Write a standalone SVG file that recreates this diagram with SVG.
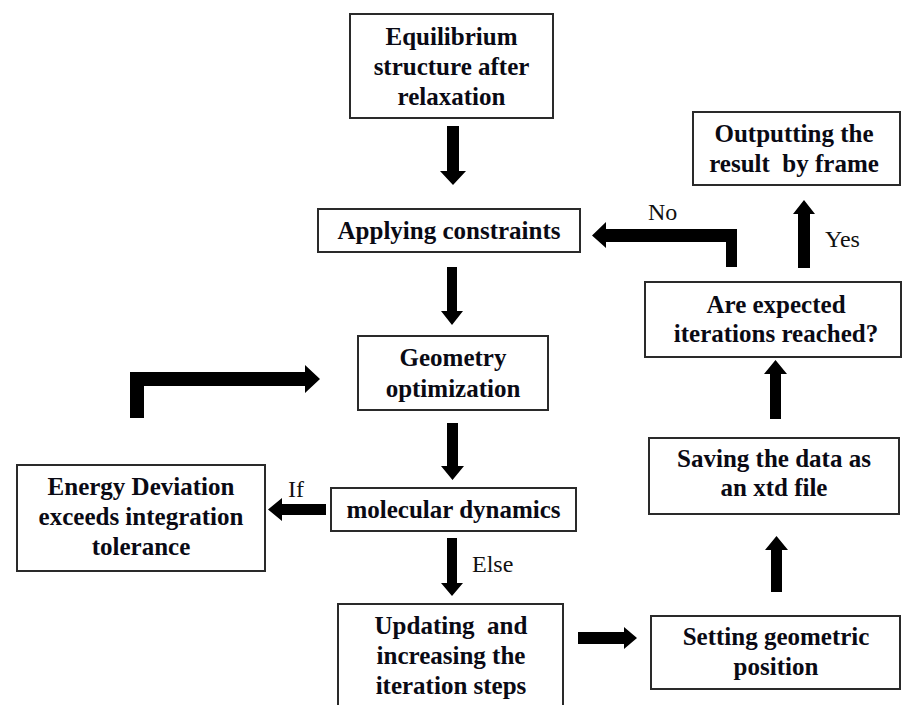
<svg xmlns="http://www.w3.org/2000/svg" width="902" height="705" viewBox="0 0 902 705">
<style>
.box{fill:#fff;stroke:#2a2a2a;stroke-width:2}
.t{font-weight:bold;font-size:25px;fill:#0a0a14;text-anchor:middle}
.lbl{font-size:24px;fill:#111}
.arr{fill:#000}
</style>
<rect width="902" height="705" fill="#fff"/>
<g font-family="Liberation Serif, Times New Roman, serif">
<g id="equilibrium">
<rect class="box" x="350" y="14" width="203" height="104"/>
<text class="t" x="451.5" y="45">Equilibrium</text>
<text class="t" x="451.5" y="75">structure after</text>
<text class="t" x="451.5" y="105">relaxation</text>
</g>
<g id="applying">
<rect class="box" x="318" y="209" width="262" height="43"/>
<text class="t" x="449" y="239">Applying constraints</text>
</g>
<g id="geometry">
<rect class="box" x="358" y="336" width="190" height="74"/>
<text class="t" x="453" y="366">Geometry</text>
<text class="t" x="453" y="397">optimization</text>
</g>
<g id="molecular">
<rect class="box" x="331" y="488" width="245" height="43"/>
<text class="t" x="453.5" y="518">molecular dynamics</text>
</g>
<g id="energy">
<rect class="box" x="17" y="465" width="248" height="106"/>
<text class="t" x="141" y="495">Energy Deviation</text>
<text class="t" x="141" y="525">exceeds integration</text>
<text class="t" x="141" y="555">tolerance</text>
</g>
<g id="updating">
<rect class="box" x="338" y="604" width="225" height="110"/>
<text class="t" x="451" y="634" xml:space="preserve">Updating  and</text>
<text class="t" x="451" y="664">increasing the</text>
<text class="t" x="451" y="694">iteration steps</text>
</g>
<g id="setting">
<rect class="box" x="651" y="616" width="249" height="73"/>
<text class="t" x="776" y="645">Setting geometric</text>
<text class="t" x="776" y="675">position</text>
</g>
<g id="saving">
<rect class="box" x="649" y="438" width="250" height="76"/>
<text class="t" x="774" y="467">Saving the data as</text>
<text class="t" x="774" y="496">an xtd file</text>
</g>
<g id="expected">
<rect class="box" x="645" y="282" width="256" height="75"/>
<text class="t" x="776" y="313">Are expected</text>
<text class="t" x="776" y="342">iterations reached?</text>
</g>
<g id="outputting">
<rect class="box" x="693" y="112" width="207" height="73"/>
<text class="t" x="794" y="142">Outputting the</text>
<text class="t" x="794" y="172" xml:space="preserve">result  by frame</text>
</g>
<g id="connectors">
<polygon class="arr" points="447,126 459,126 459,171 466,171 453,185 440,171 447,171"/>
<polygon class="arr" points="447,267 457,267 457,311 463,311 452,325 441,311 447,311"/>
<polygon class="arr" points="447,423 458,423 458,466 464,466 452.5,480 441,466 447,466"/>
<polygon class="arr" points="326,504 326,515 282,515 282,521 268,509.5 282,498 282,504"/>
<polygon class="arr" points="447,538 457,538 457,583 463,583 452,596 441,583 447,583"/>
<polygon class="arr" points="578,632 624,632 624,627 637,638 624,649 624,644 578,644"/>
<polygon class="arr" points="771,592 771,550 765,550 776.5,536 788,550 782,550 782,592"/>
<polygon class="arr" points="770,419 770,374 764,374 775.5,360 787,374 781,374 781,419"/>
<polygon class="arr" points="798,268 798,214 793,214 804,200 815,214 810,214 810,268"/>
<polygon class="arr" points="737,267 737,229 606,229 606,222 592,235.5 606,248 606,242 726,242 726,267"/>
<polygon class="arr" points="130,418 130,372 305,372 305,365 320,379 305,393 305,386 144,386 144,418"/>
<text class="lbl" x="648" y="220">No</text>
<text class="lbl" x="825" y="247">Yes</text>
<text class="lbl" x="288" y="497">If</text>
<text class="lbl" x="472" y="572">Else</text>
</g>
</g>
</svg>
